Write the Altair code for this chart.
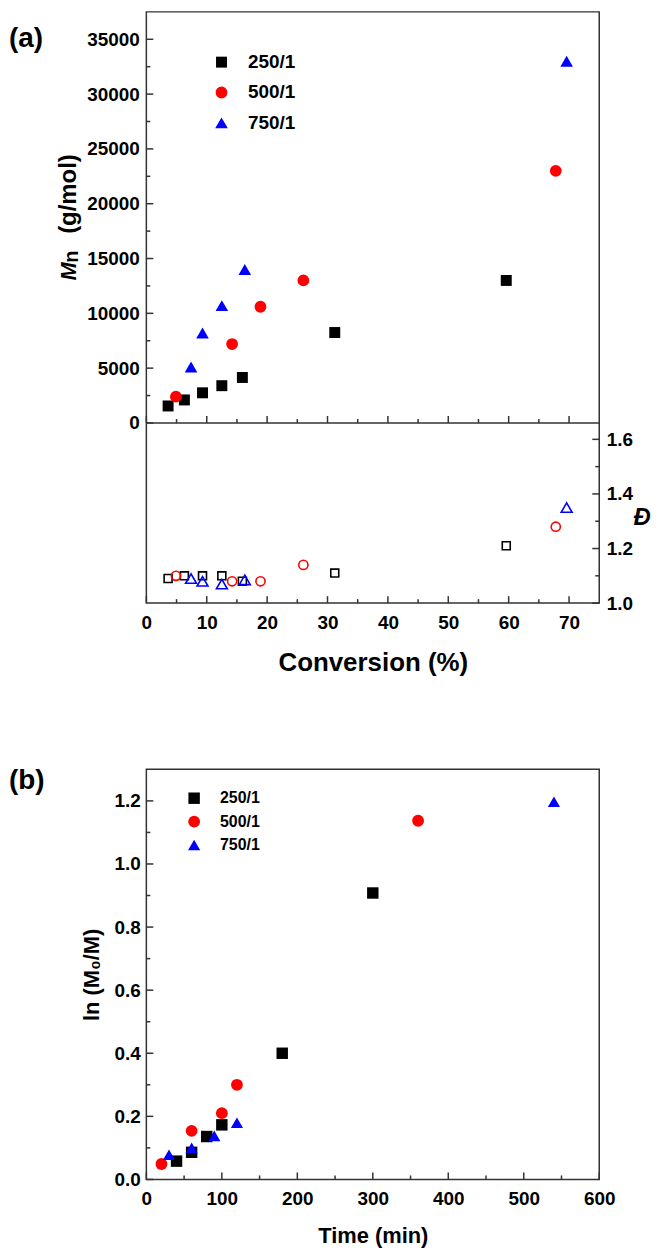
import altair as alt
import pandas as pd

FONT = "Liberation Sans"
AX = "#333333"

series = ["250/1", "500/1", "750/1"]
colors = ["#000000", "#ff0000", "#0000ff"]
shapes = ["square", "circle", "triangle-up"]

# ---- panel (a): Mn and dispersity vs conversion ----
conv_250 = [3.6, 6.3, 9.3, 12.5, 15.9, 31.2, 59.6]
mn_250 = [1550, 2100, 2750, 3400, 4150, 8250, 13000]
d_250 = [1.09, 1.10, 1.10, 1.10, 1.08, 1.11, 1.21]

conv_500 = [4.9, 14.2, 18.9, 26.0, 67.8]
mn_500 = [2400, 7200, 10600, 13000, 23000]
d_500 = [1.10, 1.08, 1.08, 1.14, 1.28]

conv_750 = [7.4, 9.3, 12.5, 16.3, 69.6]
mn_750 = [5100, 8200, 10700, 14000, 33000]
d_750 = [1.09, 1.08, 1.07, 1.085, 1.35]

# ---- panel (b): ln(M0/M) vs time ----
time_250 = [40, 60, 80, 100, 180, 300]
lnm_250 = [0.058, 0.086, 0.136, 0.173, 0.40, 0.908]
time_500 = [20, 60, 100, 120, 360]
lnm_500 = [0.049, 0.154, 0.21, 0.30, 1.137]
time_750 = [30, 60, 90, 120, 540]
lnm_750 = [0.078, 0.10, 0.138, 0.18, 1.197]

# tick values
conv_major = [0, 10, 20, 30, 40, 50, 60, 70]
conv_minor = [5, 15, 25, 35, 45, 55, 65]
mn_major = [0, 5000, 10000, 15000, 20000, 25000, 30000, 35000]
mn_minor = [2500, 7500, 12500, 17500, 22500, 27500, 32500]
d_major = [1.0, 1.2, 1.4, 1.6]
d_minor = [1.1, 1.3, 1.5]
time_major = [0, 100, 200, 300, 400, 500, 600]
time_minor = [50, 150, 250, 350, 450, 550]
ln_major = [0.0, 0.2, 0.4, 0.6, 0.8, 1.0, 1.2]
ln_minor = [0.1, 0.3, 0.5, 0.7, 0.9, 1.1]

W = 455
H_MN = 413
H_D = 181
H_TOP = H_MN + H_D
H_B = 412
MAJ = 7
MIN = 4

x_scale_a = alt.Scale(domain=[0, 75], nice=False, zero=False)
mn_scale = alt.Scale(domain=[0, 37500], range=[H_MN, 0], nice=False, zero=False)
d_scale = alt.Scale(domain=[1.0, 1.66], range=[H_TOP, H_MN], nice=False, zero=False)
x_scale_b = alt.Scale(domain=[0, 600], nice=False, zero=False)
y_scale_b = alt.Scale(domain=[0, 1.3], nice=False, zero=False)

lab = dict(labelFont=FONT, labelFontSize=19, labelFontWeight="bold", labelColor="black",
           titleFont=FONT, titleFontWeight="bold", titleColor="black",
           grid=False, domain=False, ticks=False, tickSize=0, labelFlush=False, labelOverlap=False)

df_mn = pd.DataFrame({
    "conv": conv_250 + conv_500 + conv_750,
    "mn": mn_250 + mn_500 + mn_750,
    "series": [series[0]] * len(conv_250) + [series[1]] * len(conv_500) + [series[2]] * len(conv_750),
})

legend_a = alt.Legend(title=None, orient="none", legendX=66, legendY=41, symbolSize=280,
                      labelFont=FONT, labelFontSize=19, labelFontWeight="bold", labelColor="black",
                      rowPadding=10.5, labelOffset=17, padding=0, symbolStrokeWidth=0, symbolOpacity=1)

x_axis_a = alt.Axis(values=conv_major, format="d", title="Conversion (%)", titleFontSize=26,
                    labelPadding=10, titlePadding=18, orient="bottom", **lab)
mn_axis = alt.Axis(values=mn_major, format="d", title=None, labelPadding=7, orient="left", **lab)
d_axis = alt.Axis(values=d_major, format=".1f", orient="right", title="Đ", titleAngle=0,
                  titleFontStyle="italic", titleFontSize=24, titleAlign="left", titleBaseline="middle",
                  titleX=34, titleY=508, labelPadding=7, **lab)

mn_pts = alt.Chart(df_mn).mark_point(filled=True, opacity=1, strokeWidth=0).encode(
    x=alt.X("conv:Q", scale=x_scale_a, axis=x_axis_a),
    y=alt.Y("mn:Q", scale=mn_scale, axis=mn_axis),
    color=alt.Color("series:N", scale=alt.Scale(domain=series, range=colors), legend=legend_a),
    shape=alt.Shape("series:N", scale=alt.Scale(domain=series, range=shapes), legend=legend_a),
    size=alt.Size("series:N", scale=alt.Scale(domain=series, range=[121, 160, 225]), legend=None),
)

d_layers = []
for i, (cv, dv, sz) in enumerate([(conv_250, d_250, 64), (conv_500, d_500, 85), (conv_750, d_750, 120)]):
    d_layers.append(
        alt.Chart(pd.DataFrame({"conv": cv, "d": dv})).mark_point(
            filled=False, shape=shapes[i], color=colors[i], size=sz, strokeWidth=1.6, opacity=1
        ).encode(
            x=alt.X("conv:Q", scale=x_scale_a, axis=x_axis_a),
            y=alt.Y("d:Q", scale=d_scale, axis=d_axis if i == 0 else None),
        )
    )


def xticks(vals, scale, y_px, length, axis):
    return alt.Chart(pd.DataFrame({"v": vals})).mark_rule(color=AX, strokeWidth=1.5).encode(
        x=alt.X("v:Q", scale=scale, axis=axis), y=alt.value(y_px), y2=alt.value(y_px - length))


def yticks(vals, scale, x_px, length):
    return alt.Chart(pd.DataFrame({"v": vals})).mark_rule(color=AX, strokeWidth=1.5).encode(
        y=alt.Y("v:Q", scale=scale, axis=None), x=alt.value(x_px), x2=alt.value(x_px + length))


divider = alt.Chart(pd.DataFrame({"v": [0]})).mark_rule(color=AX, strokeWidth=1.5).encode(
    y=alt.Y("v:Q", scale=mn_scale, axis=None))

one = alt.Data(values=[{}])


def label(text, x, y, size, style="normal", angle=0):
    return alt.Chart(one).mark_text(text=text, font=FONT, fontSize=size, fontWeight="bold",
                                    fontStyle=style, align="left", baseline="alphabetic",
                                    angle=angle, color="black").encode(
        x=alt.value(x), y=alt.value(y))


top = alt.layer(
    mn_pts,
    *d_layers,
    divider,
    xticks(conv_major, x_scale_a, H_MN, MAJ, x_axis_a), xticks(conv_minor, x_scale_a, H_MN, MIN, x_axis_a),
    xticks(conv_major, x_scale_a, H_TOP, MAJ, x_axis_a), xticks(conv_minor, x_scale_a, H_TOP, MIN, x_axis_a),
    yticks(mn_major, mn_scale, 0, MAJ), yticks(mn_minor, mn_scale, 0, MIN),
    yticks(d_major, d_scale, W, -MAJ), yticks(d_minor, d_scale, W, -MIN),
    label("(a)", -138, 35, 28),
    label("M", -71, 270, 22, "italic", 270),
    label("n", -69, 252, 20, "normal", 270),
    label("(g/mol)", -71, 223, 24, "normal", 270),
).resolve_scale(y="independent").properties(width=W, height=H_TOP)

# ---- panel (b) ----
df_b = pd.DataFrame({
    "time": time_250 + time_500 + time_750,
    "ln": lnm_250 + lnm_500 + lnm_750,
    "series": [series[0]] * len(time_250) + [series[1]] * len(time_500) + [series[2]] * len(time_750),
})

legend_b = alt.Legend(title=None, orient="none", legendX=40, legendY=21, symbolSize=110,
                      labelFont=FONT, labelFontSize=16, labelFontWeight="bold", labelColor="black",
                      rowPadding=7.5, labelOffset=18, padding=0, symbolStrokeWidth=0, symbolOpacity=1)

x_axis_b = alt.Axis(values=time_major, format="d", title="Time (min)", titleFontSize=22,
                    labelPadding=10, titlePadding=17, orient="bottom", **lab)
y_axis_b = alt.Axis(values=ln_major, format=".1f", title="ln (M₀/M)", titleFontSize=22,
                    labelPadding=6, titlePadding=11, orient="left", **lab)

b_pts = alt.Chart(df_b).mark_point(filled=True, opacity=1, strokeWidth=0).encode(
    x=alt.X("time:Q", scale=x_scale_b, axis=x_axis_b),
    y=alt.Y("ln:Q", scale=y_scale_b, axis=y_axis_b),
    color=alt.Color("series:N", scale=alt.Scale(domain=series, range=colors), legend=legend_b),
    shape=alt.Shape("series:N", scale=alt.Scale(domain=series, range=shapes), legend=legend_b),
    size=alt.Size("series:N", scale=alt.Scale(domain=series, range=[132, 150, 245]), legend=None),
)


def xticks_b(vals, length):
    return alt.Chart(pd.DataFrame({"v": vals})).mark_rule(color=AX, strokeWidth=1.5).encode(
        x=alt.X("v:Q", scale=x_scale_b, axis=x_axis_b), y=alt.value(H_B), y2=alt.value(H_B - length))


def yticks_b(vals, length):
    return alt.Chart(pd.DataFrame({"v": vals})).mark_rule(color=AX, strokeWidth=1.5).encode(
        y=alt.Y("v:Q", scale=y_scale_b, axis=y_axis_b), x=alt.value(0), x2=alt.value(length))


bottom = alt.layer(
    b_pts,
    xticks_b(time_major, MAJ), xticks_b(time_minor, MIN),
    yticks_b(ln_major, MAJ), yticks_b(ln_minor, MIN),
    label("(b)", -138, 20, 28),
).properties(width=W, height=H_B)

chart = alt.vconcat(top, bottom, spacing=90).resolve_scale(
    color="independent", shape="independent", size="independent"
).resolve_legend(color="independent", shape="independent").properties(
    padding={"left": 0, "top": 0, "right": 0, "bottom": 0}, background="white"
).configure_view(stroke=AX, strokeWidth=1.5)

chart.save("out.html", embed_options={"renderer": "svg", "actions": False})
